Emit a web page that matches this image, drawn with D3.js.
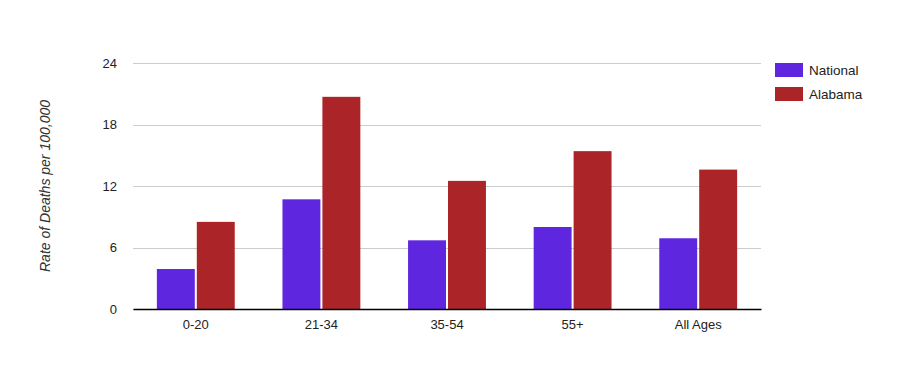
<!DOCTYPE html>
<html>
<head>
<meta charset="utf-8">
<script src="https://cdn.jsdelivr.net/npm/d3@7"></script>
<style>
  body { margin: 0; background: #fff; }
  text { font-family: "Liberation Sans", Arial, sans-serif; }
</style>
</head>
<body>
<div id="chart"></div>
<script>
var categories = ["0-20", "21-34", "35-54", "55+", "All Ages"];
var seriesNames = ["National", "Alabama"];
var nationalValues = [3.9, 10.7, 6.7, 8.0, 6.9];
var alabamaValues = [8.5, 20.7, 12.5, 15.4, 13.6];
var yTicks = [0, 6, 12, 18, 24];
var colors = ["#5f26e0", "#ab2427"];

var width = 903, height = 367;
var plotLeft = 133, plotRight = 761, plotTop = 63, plotBottom = 309;

var svg = d3.select("#chart").append("svg")
    .attr("width", width).attr("height", height);

var xScale = d3.scaleBand()
    .domain(categories)
    .range([plotLeft, plotRight])
    .paddingInner(0.38)
    .paddingOuter(0.19);

var xSub = d3.scaleBand()
    .domain(seriesNames)
    .range([0, xScale.bandwidth()]);

var yScale = d3.scaleLinear()
    .domain([0, 24])
    .range([plotBottom, plotTop]);

// gridlines
svg.append("g")
    .selectAll("line")
    .data(yTicks)
    .enter().append("line")
    .attr("x1", plotLeft).attr("x2", plotRight)
    .attr("y1", function(d){ return Math.round(yScale(d)) + 0.5; })
    .attr("y2", function(d){ return Math.round(yScale(d)) + 0.5; })
    .attr("stroke", "#cccccc").attr("stroke-width", 1);

// y axis labels
var yAxis = svg.append("g")
    .attr("transform", "translate(" + plotLeft + ",0)")
    .call(d3.axisLeft(yScale).tickValues(yTicks).tickSize(0).tickPadding(16));
yAxis.select(".domain").remove();
yAxis.selectAll("text").attr("font-size", 13).attr("fill", "#222")
    .attr("font-family", "Liberation Sans, Arial, sans-serif");

var rows = categories.map(function(c, i){
    return {cat: c, vals: [nationalValues[i], alabamaValues[i]]};
});

var groups = svg.append("g")
    .selectAll("g")
    .data(rows)
    .enter().append("g")
    .attr("transform", function(d){ return "translate(" + xScale(d.cat) + ",0)"; });

groups.selectAll("rect")
    .data(function(d){ return d.vals.map(function(v, j){ return {name: seriesNames[j], value: v, j: j}; }); })
    .enter().append("rect")
    .attr("x", function(d){ return xSub(d.name) + (d.j == 1 ? 1 : 0); })
    .attr("y", function(d){ return yScale(d.value); })
    .attr("width", function(d){ return xSub.bandwidth() - 1; })
    .attr("height", function(d){ return plotBottom - yScale(d.value); })
    .attr("fill", function(d){ return colors[d.j]; });

// x axis
var xAxis = svg.append("g")
    .attr("transform", "translate(0," + plotBottom + ")")
    .call(d3.axisBottom(xScale).tickSize(0).tickPadding(11));
xAxis.select(".domain").attr("stroke", "#000").attr("stroke-width", 1.5);
xAxis.selectAll("text").attr("font-size", 13).attr("fill", "#222")
    .attr("font-family", "Liberation Sans, Arial, sans-serif");

// y title
svg.append("text")
    .attr("transform", "translate(50," + ((plotTop + plotBottom) / 2) + ") rotate(-90)")
    .attr("text-anchor", "middle")
    .attr("font-size", 14)
    .attr("font-style", "italic")
    .attr("fill", "#333")
    .text("Rate of Deaths per 100,000");

// legend
var legend = svg.append("g")
    .selectAll("g")
    .data(seriesNames)
    .enter().append("g")
    .attr("transform", function(d, i){ return "translate(775," + (63 + i * 24) + ")"; });

legend.append("rect")
    .attr("width", 28).attr("height", 14)
    .attr("fill", function(d, i){ return colors[i]; });

legend.append("text")
    .attr("x", 34).attr("y", 12)
    .attr("font-size", 13.5)
    .attr("fill", "#222")
    .text(function(d){ return d; });
</script>
</body>
</html>
